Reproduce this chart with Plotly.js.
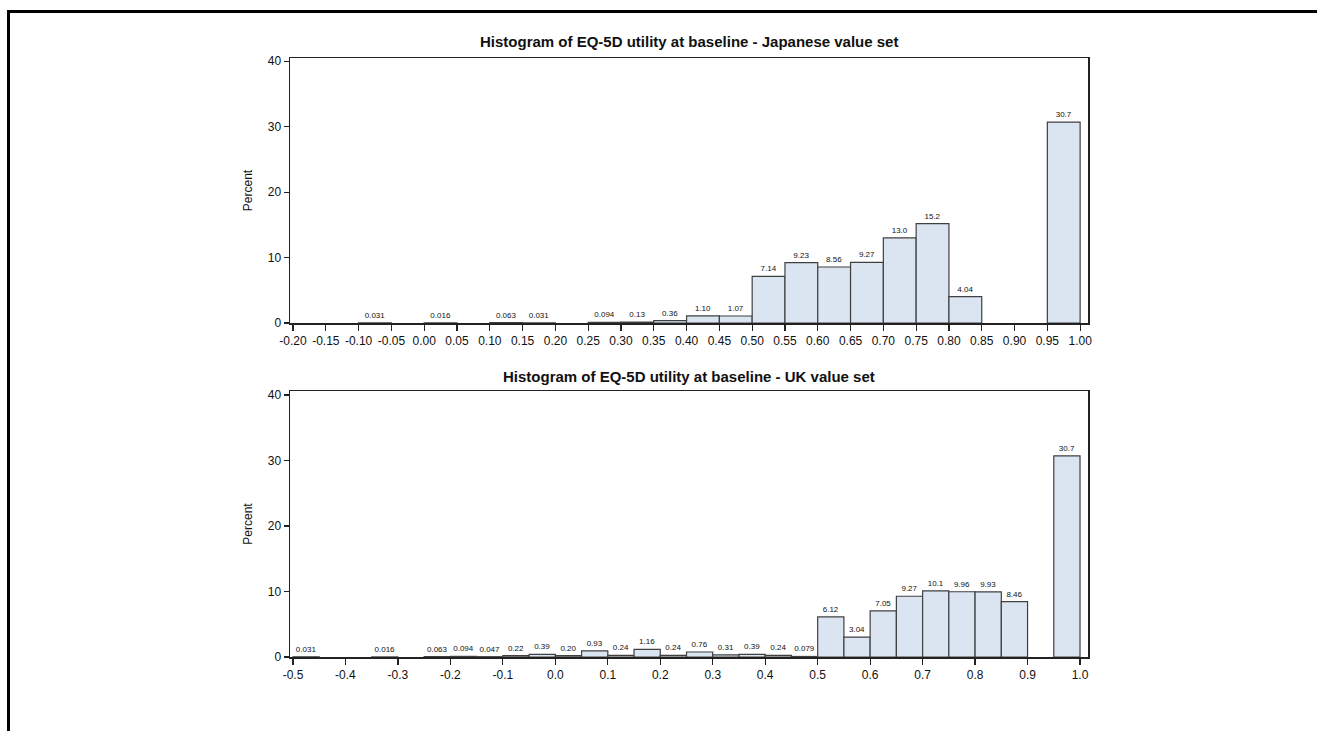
<!DOCTYPE html>
<html>
<head>
<meta charset="utf-8">
<script src="https://cdn.plot.ly/plotly-3.0.1.min.js"></script>
<style>
  html, body { margin: 0; padding: 0; background: #fff; overflow: hidden; }
  #frame { position: absolute; left: 7px; top: 10px; width: 1400px; height: 800px;
           border-top: 3px solid #000; border-left: 3px solid #000; pointer-events: none; z-index: 5; }
  #chart { position: absolute; left: 0; top: 0; width: 1317px; height: 731px; }
</style>
</head>
<body>
<div id="chart"></div>
<div id="frame"></div>
<script>
// Japanese value set: bin left edges (width 0.05) and percent
const jpBinStart = [-0.10, 0.00, 0.10, 0.15, 0.25, 0.30, 0.35, 0.40, 0.45, 0.50, 0.55, 0.60, 0.65, 0.70, 0.75, 0.80, 0.95];
const jpPercent  = [0.031, 0.016, 0.063, 0.031, 0.094, 0.13, 0.36, 1.10, 1.07, 7.14, 9.23, 8.56, 9.27, 13.0, 15.2, 4.04, 30.7];
const jpLabels   = ["0.031","0.016","0.063","0.031","0.094","0.13","0.36","1.10","1.07","7.14","9.23","8.56","9.27","13.0","15.2","4.04","30.7"];

// UK value set: bin left edges (width 0.05) and percent
const ukBinStart = [-0.50, -0.35, -0.25, -0.20, -0.15, -0.10, -0.05, 0.00, 0.05, 0.10, 0.15, 0.20, 0.25, 0.30, 0.35, 0.40, 0.45, 0.50, 0.55, 0.60, 0.65, 0.70, 0.75, 0.80, 0.85, 0.95];
const ukPercent  = [0.031, 0.016, 0.063, 0.094, 0.047, 0.22, 0.39, 0.20, 0.93, 0.24, 1.16, 0.24, 0.76, 0.31, 0.39, 0.24, 0.079, 6.12, 3.04, 7.05, 9.27, 10.1, 9.96, 9.93, 8.46, 30.7];
const ukLabels   = ["0.031","0.016","0.063","0.094","0.047","0.22","0.39","0.20","0.93","0.24","1.16","0.24","0.76","0.31","0.39","0.24","0.079","6.12","3.04","7.05","9.27","10.1","9.96","9.93","8.46","30.7"];

const binWidth = 0.05;

const jpTickVals = [-0.20,-0.15,-0.10,-0.05,0.00,0.05,0.10,0.15,0.20,0.25,0.30,0.35,0.40,0.45,0.50,0.55,0.60,0.65,0.70,0.75,0.80,0.85,0.90,0.95,1.00];
const jpTickText = ["-0.20","-0.15","-0.10","-0.05","0.00","0.05","0.10","0.15","0.20","0.25","0.30","0.35","0.40","0.45","0.50","0.55","0.60","0.65","0.70","0.75","0.80","0.85","0.90","0.95","1.00"];
const ukTickVals = [-0.5,-0.4,-0.3,-0.2,-0.1,0.0,0.1,0.2,0.3,0.4,0.5,0.6,0.7,0.8,0.9,1.0];
const ukTickText = ["-0.5","-0.4","-0.3","-0.2","-0.1","0.0","0.1","0.2","0.3","0.4","0.5","0.6","0.7","0.8","0.9","1.0"];
const yTickVals = [0, 10, 20, 30, 40];

const titles = ["Histogram of EQ-5D utility at baseline - Japanese value set",
                "Histogram of EQ-5D utility at baseline - UK value set"];

const FONT = "Liberation Sans, Arial, sans-serif";
const barFill = "#dbe5f2";
const barLine = "#404040";

function barTrace(xs, ys, labels, xa, ya) {
  return {
    type: "bar", x: xs, y: ys, width: binWidth, offset: 0,
    xaxis: xa, yaxis: ya,
    marker: { color: barFill, line: { color: barLine, width: 1.2 } },
    text: labels, textposition: "outside", cliponaxis: false,
    constraintext: "none",
    textfont: { family: FONT, size: 8, color: "#111" },
    hoverinfo: "x+y", showlegend: false
  };
}

const traces = [
  barTrace(jpBinStart, jpPercent, jpLabels, "x", "y"),
  barTrace(ukBinStart, ukPercent, ukLabels, "x2", "y2")
];

const W = 1317, H = 731;
const xDom = [290 / W, 1088 / W];
const axCommon = {
  showline: true, linecolor: "#222", linewidth: 1.5, mirror: true,
  ticks: "outside", tickcolor: "#222", tickwidth: 1.2,
  showgrid: false, zeroline: false,
  tickfont: { family: FONT, size: 12, color: "#111" }
};

const layout = {
  width: W, height: H,
  margin: { l: 0, r: 0, t: 0, b: 0 },
  paper_bgcolor: "#fff", plot_bgcolor: "#fff",
  bargap: 0,
  font: { family: FONT, color: "#111" },
  xaxis: Object.assign({}, axCommon, {
    domain: xDom, anchor: "y", range: [-0.2046, 1.012],
    tickmode: "array", tickvals: jpTickVals, ticktext: jpTickText, ticklen: 6
  }),
  yaxis: Object.assign({}, axCommon, {
    domain: [(H - 323) / H, (H - 58) / H], anchor: "x", range: [0, 40.5],
    tickmode: "array", tickvals: yTickVals, ticklen: 5,
    title: { text: "Percent", font: { family: FONT, size: 12, color: "#111" }, standoff: 12 }
  }),
  xaxis2: Object.assign({}, axCommon, {
    domain: xDom, anchor: "y2", range: [-0.5057, 1.0152],
    tickmode: "array", tickvals: ukTickVals, ticktext: ukTickText, ticklen: 6
  }),
  yaxis2: Object.assign({}, axCommon, {
    domain: [(H - 657) / H, (H - 391) / H], anchor: "x2", range: [0, 40.6],
    tickmode: "array", tickvals: yTickVals, ticklen: 5,
    title: { text: "Percent", font: { family: FONT, size: 12, color: "#111" }, standoff: 12 }
  }),
  annotations: [
    { text: "<b>" + titles[0] + "</b>", xref: "paper", yref: "paper",
      x: 689 / W, y: (H - 42) / H, xanchor: "center", yanchor: "middle",
      showarrow: false, font: { family: FONT, size: 15, color: "#111" } },
    { text: "<b>" + titles[1] + "</b>", xref: "paper", yref: "paper",
      x: 689 / W, y: (H - 377) / H, xanchor: "center", yanchor: "middle",
      showarrow: false, font: { family: FONT, size: 15, color: "#111" } }
  ]
};

Plotly.newPlot("chart", traces, layout, { displayModeBar: false, staticPlot: true });
</script>
</body>
</html>
